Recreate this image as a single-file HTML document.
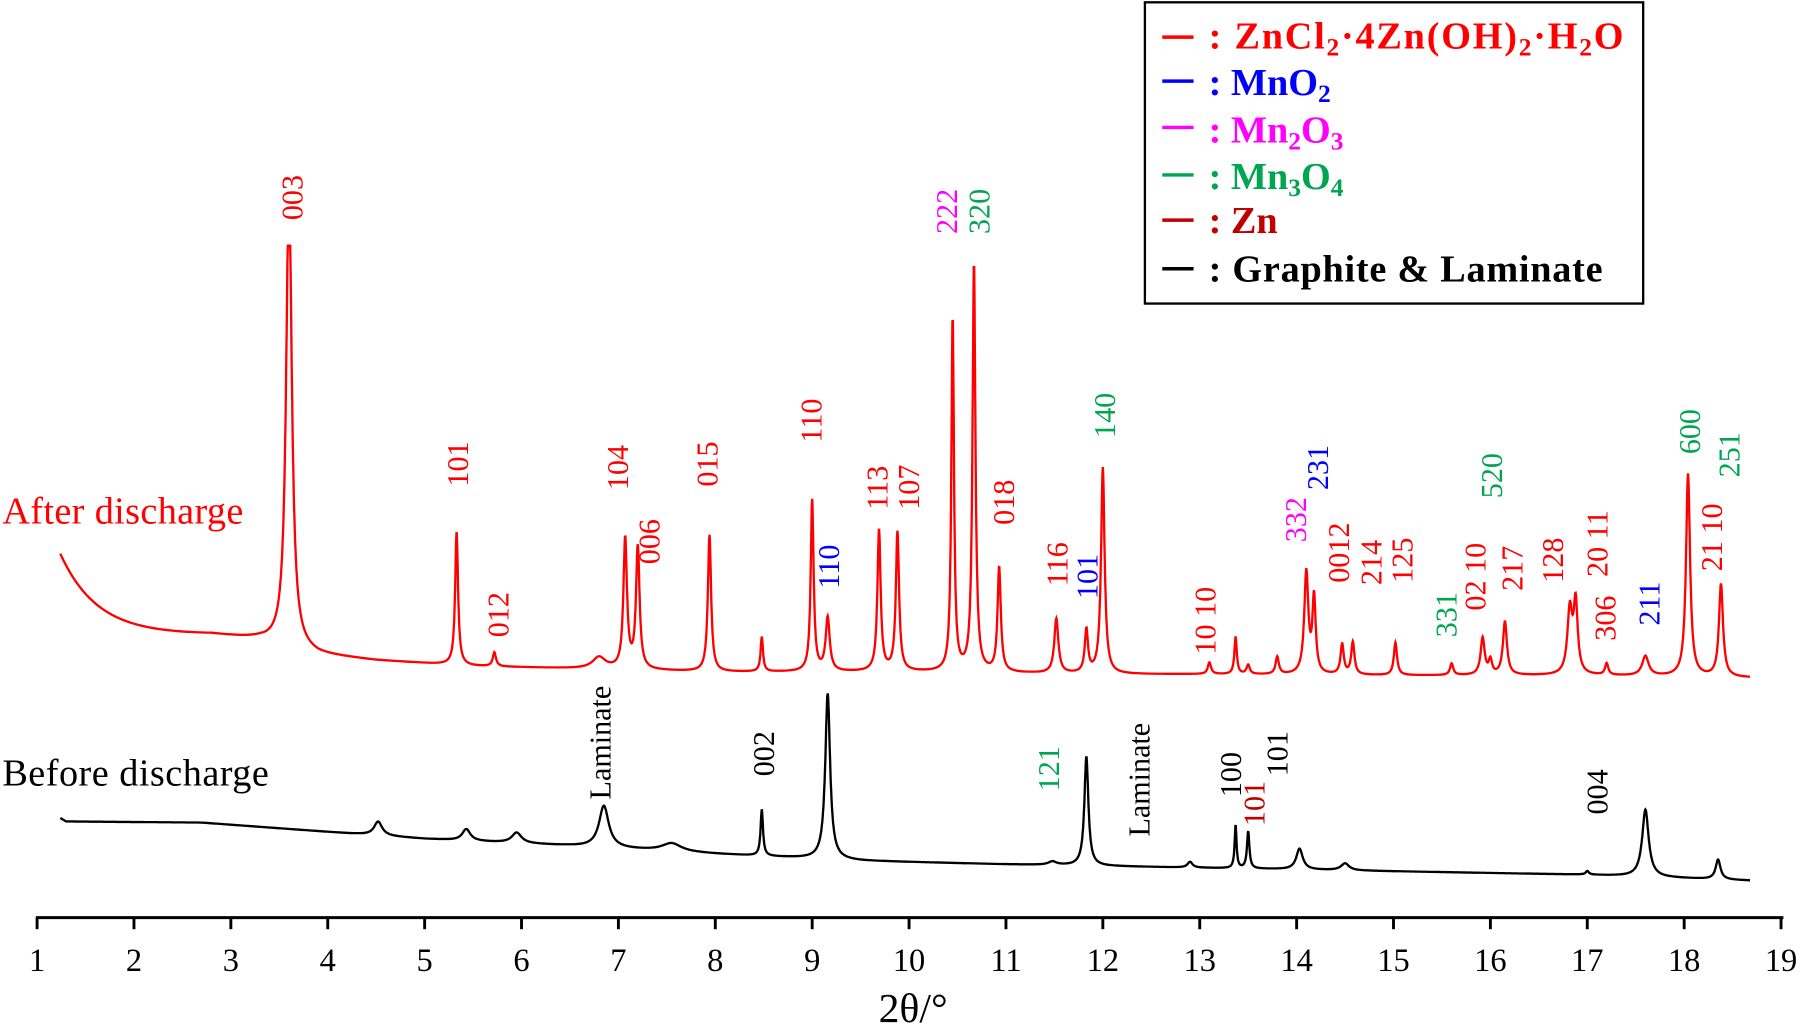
<!DOCTYPE html>
<html><head><meta charset="utf-8"><style>
html,body{margin:0;padding:0;background:#fff;}
svg{display:block;}
text{font-family:"Liberation Serif",serif;}
</style></head><body>
<svg id="s" width="1817" height="1030" viewBox="0 0 1568 889" preserveAspectRatio="none" xmlns="http://www.w3.org/2000/svg">
<path id="red" fill="none" stroke="#ff0000" stroke-width="2"/>
<path id="blk" fill="none" stroke="#000" stroke-width="2"/>
<g id="ax" stroke="#000" stroke-width="2.5"></g>
<g id="lab" font-size="26"></g>
<text x="2" y="452" font-size="33" fill="#ff0000" textLength="208">After discharge</text>
<text x="2" y="678" font-size="33" fill="#000" textLength="230">Before discharge</text>
<text x="788" y="882" font-size="36" text-anchor="middle">2θ/°</text>
<rect x="988" y="2" width="430" height="260" fill="#fff" stroke="#000" stroke-width="2"/>
<g font-weight="bold" font-size="33">
<line x1="1003" y1="32" x2="1030" y2="32" stroke="#ff0000" stroke-width="3"/>
<line x1="1003" y1="70" x2="1030" y2="70" stroke="#0000ff" stroke-width="3"/>
<line x1="1003" y1="110" x2="1030" y2="110" stroke="#ff00ff" stroke-width="3"/>
<line x1="1003" y1="151" x2="1030" y2="151" stroke="#00a550" stroke-width="3"/>
<line x1="1003" y1="190" x2="1030" y2="190" stroke="#c00000" stroke-width="3"/>
<line x1="1003" y1="232" x2="1030" y2="232" stroke="#000" stroke-width="3"/>
<text x="1043" y="42" fill="#ff0000" textLength="358">: ZnCl<tspan font-size="22" dy="6">2</tspan><tspan dy="-6">·4Zn(OH)</tspan><tspan font-size="22" dy="6">2</tspan><tspan dy="-6">·H</tspan><tspan font-size="22" dy="6">2</tspan><tspan dy="-6">O</tspan></text>
<text x="1043" y="82" fill="#0000ff">: MnO<tspan font-size="22" dy="6">2</tspan></text>
<text x="1043" y="123" fill="#ff00ff">: Mn<tspan font-size="22" dy="6">2</tspan><tspan dy="-6">O</tspan><tspan font-size="22" dy="6">3</tspan></text>
<text x="1043" y="163" fill="#00a550">: Mn<tspan font-size="22" dy="6">3</tspan><tspan dy="-6">O</tspan><tspan font-size="22" dy="6">4</tspan></text>
<text x="1043" y="201" fill="#c00000">: Zn</text>
<text x="1043" y="243" fill="#000" textLength="340">: Graphite &amp; Laminate</text>
</g>
</svg>
<script>
var X=function(v){return 32+(v-1)*83.61;};
function interp(pts,v){for(var i=0;i<pts.length-1;i++){if(v<=pts[i+1][0]){var t=(v-pts[i][0])/(pts[i+1][0]-pts[i][0]);return pts[i][1]+t*(pts[i+1][1]-pts[i][1]);}}return pts[pts.length-1][1];}
function curve(base,peaks,v0,v1,clip,extra){var d="";for(var v=v0;v<=v1;v+=0.004){var y=interp(base,v);if(extra)y+=extra(v);for(var k=0;k<peaks.length;k++){var p=peaks[k];var dx=(v-p[0])/p[2];y-=p[1]/(1+dx*dx);}if(clip&&y<clip)y=clip;d+=(d?"L":"M")+X(v).toFixed(1)+" "+y.toFixed(1);}return d;}
var rb=[[1.24,548],[2.8,548],[3.3,552],[3.9,565],[4.5,570],[5.5,575],[7,578],[8,580],[10,580],[12,582],[13,582],[15,583],[17,583],[18.7,585]];
var rex=function(v){return -70*Math.exp(-(v-1.24)/0.38);};
var rp=[[3.6,400,0.035],[5.33,115,0.018],[5.72,12,0.02],[6.8,10,0.08],[7.07,112,0.022],[7.2,105,0.022],[7.94,118,0.02],[8.48,30,0.015],[9.0,148,0.018],[9.16,46,0.025],[9.69,122,0.02],[9.88,120,0.02],[10.45,305,0.016],[10.67,352,0.018],[10.93,90,0.02],[11.52,47,0.025],[11.83,37,0.02],[12.0,178,0.022],[13.1,10,0.02],[13.37,32,0.015],[13.5,8,0.02],[13.8,15,0.02],[14.1,88,0.025],[14.18,65,0.02],[14.47,26,0.02],[14.58,28,0.02],[15.02,28,0.02],[15.6,10,0.02],[15.92,32,0.025],[16.0,12,0.02],[16.15,46,0.025],[16.82,55,0.03],[16.88,60,0.025],[17.2,10,0.02],[17.6,17,0.04],[18.04,175,0.025],[18.38,80,0.025]];
document.getElementById("red").setAttribute("d",curve(rb,rp,1.24,18.68,212,rex));
var bb=[[1.24,706],[1.3,709],[2.7,710],[4,718],[5,724],[6,728],[6.5,730],[8,737],[9.5,743],[11,746],[13,749],[15,752],[17,755],[18.68,760]];
var bp=[[4.52,12,0.05],[5.43,10,0.05],[5.95,9,0.06],[6.85,36,0.06],[7.55,7,0.12],[8.48,40,0.015],[9.16,143,0.03],[11.48,3,0.05],[11.83,94,0.025],[12.9,5,0.03],[13.37,37,0.012],[13.5,32,0.015],[14.03,18,0.04],[14.5,6,0.05],[17.0,3,0.02],[17.6,58,0.04],[18.35,17,0.03]];
document.getElementById("blk").setAttribute("d",curve(bb,bp,1.24,18.68,0));
var ax=document.getElementById("ax"),h='<line x1="31" y1="792" x2="1539" y2="792"/>';
var tl='';for(var i=1;i<=19;i++){h+='<line x1="'+X(i)+'" y1="792" x2="'+X(i)+'" y2="802"/>';tl+='<text x="'+X(i)+'" y="838" font-size="28" text-anchor="middle">'+i+'</text>';}
ax.innerHTML=h;
var R="#ff0000",B="#0000ff",M="#ff00ff",G="#00a550",K="#000",Z="#c00000";
var L=[["003",252,190,R],["101",395,420,R],["012",430,550,R],["104",533,423,R],["006",560,487,R],["015",610,420,R],["110",700,382,R],["110",715,508,B],["113",757,440,R],["107",784,440,R],["222",817,202,M],["320",845,202,G],["018",866,453,R],["116",912,506,R],["101",938,517,B],["140",953,378,G],["10 10",1040,565,R],["332",1118,468,M],["231",1137,423,B],["0012",1155,503,R],["214",1183,505,R],["125",1210,503,R],["331",1248,550,G],["02 10",1273,527,R],["520",1287,430,G],["217",1305,510,R],["128",1340,503,R],["20 11",1378,498,R],["306",1385,553,R],["211",1423,540,B],["600",1458,392,G],["21 10",1477,493,R],["251",1492,412,G],["Laminate",518,690,K],["002",659,670,K],["121",905,683,G],["Laminate",983,722,K],["100",1062,688,K],["101",1082,713,Z],["101",1102,670,K],["004",1378,703,K]];
var s='';L.forEach(function(l){s+='<text transform="translate('+(l[1]+9)+','+l[2]+') rotate(-90)" fill="'+l[3]+'">'+l[0]+'</text>';});
document.getElementById("lab").innerHTML=s+tl;
</script>
</body></html>
